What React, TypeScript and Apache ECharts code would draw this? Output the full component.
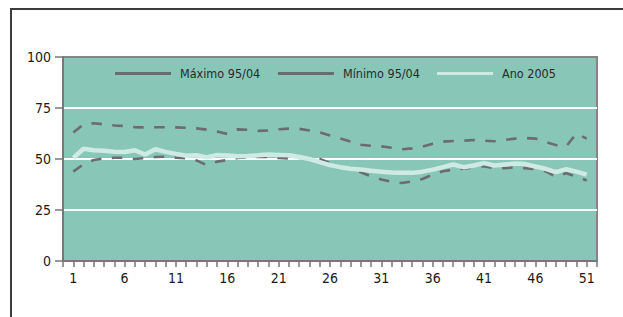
import React, { useEffect, useRef } from "react";
import * as echarts from "echarts";

const weeks = [1,2,3,4,5,6,7,8,9,10,11,12,13,14,15,16,17,18,19,20,21,22,23,24,25,26,27,28,29,30,31,32,33,34,35,36,37,38,39,40,41,42,43,44,45,46,47,48,49,50,51];

const maximo = [63,67,67.5,67,66.4,66.2,65.6,65.5,65.6,65.6,65.5,65.3,65,64.4,63.5,62.3,64.5,64.3,63.8,64,64.6,64.9,64.8,64,63,61.5,60,58.5,57,56.5,56.2,55.5,54.8,55.2,56,57.5,58.5,58.8,59,59.3,59,58.7,59.3,60,60.3,60,58.3,56.8,56.2,62.5,60];

const minimo = [43.8,47.5,49.5,50.4,50.6,50.6,50,50.5,51,51.1,50.6,50.3,49.3,47,48.7,49.5,50.5,50.8,51,51,50.5,50.3,50.5,50.5,50,48,46,45,43.5,41.5,40,38.8,38.2,39,40.2,42.4,44,44.8,45.2,46,46.5,45.5,45.5,45.9,45.5,45,44,41.3,43,41.3,39.5];

const ano2005 = [50.5,55,54.3,54,53.6,53.4,54.3,52.2,54.8,53.5,52.5,51.6,51.8,50.8,52,51.7,51.3,51.5,51.8,52.2,52,51.8,51,50,48.5,47,46,45.2,44.8,44.2,43.8,43.4,43.2,43.2,43.8,44.8,46,47.3,46,46.8,48,46.8,47.3,47.8,47.5,46.3,45.2,43.6,45,43.8,42.3];

const yTicks = [0, 25, 50, 75, 100];
const xLabelWeeks = [1, 6, 11, 16, 21, 26, 31, 36, 41, 46, 51];

const seriesNames = ["Máximo 95/04", "Mínimo 95/04", "Ano 2005"];

const FONT = "'Liberation Sans Narrow', 'DejaVu Sans Condensed', 'Liberation Sans', sans-serif";
const DASH_COLOR = "#6c6b70";
const ANO_COLOR = "#cfeae3";

export default function App() {
  const ref = useRef<HTMLDivElement>(null);
  useEffect(() => {
    if (!ref.current) return;
    const chart = echarts.init(ref.current, undefined, { renderer: "svg" });
    const pairs = (vals: number[]) => weeks.map((w, i) => [w, vals[i]]);
    const legendBase = {
      icon: "rect",
      itemWidth: 56,
      itemHeight: 3,
      padding: 0,
      top: 67,
      selectedMode: false,
      textStyle: { fontSize: 12.5, color: "#2a2a2a", fontFamily: FONT, padding: [0, 0, 0, 4] },
    };
    chart.setOption({
      animation: false,
      backgroundColor: "#ffffff",
      graphic: [
        { type: "line", shape: { x1: 11, y1: 9, x2: 11, y2: 330 }, style: { stroke: "#3c3c3c", lineWidth: 2 } },
        { type: "line", shape: { x1: 10, y1: 9, x2: 640, y2: 9 }, style: { stroke: "#3c3c3c", lineWidth: 2 } },
      ],
      legend: [
        { ...legendBase, left: 115, data: [seriesNames[0]] },
        { ...legendBase, left: 278, data: [seriesNames[1]] },
        { ...legendBase, left: 437, data: [seriesNames[2]] },
      ],
      grid: {
        left: 63,
        top: 57,
        right: 26,
        bottom: 56,
        show: true,
        backgroundColor: "#88c6b8",
        borderColor: "#858585",
        borderWidth: 2,
      },
      xAxis: {
        type: "value",
        min: 0,
        max: 52,
        interval: 1,
        axisLine: { show: true, lineStyle: { color: "#777", width: 2 } },
        axisTick: { show: true, length: 6, lineStyle: { color: "#777", width: 1.5 } },
        splitLine: { show: false },
        axisLabel: {
          margin: 10,
          fontSize: 14,
          color: "#1a1a1a",
          fontFamily: FONT,
          formatter: (v: number) => (xLabelWeeks.indexOf(v) >= 0 ? String(v) : ""),
        },
      },
      yAxis: {
        type: "value",
        min: yTicks[0],
        max: yTicks[yTicks.length - 1],
        interval: 25,
        axisLine: { show: true, lineStyle: { color: "#777", width: 2 } },
        axisTick: { show: true, length: 8, lineStyle: { color: "#777", width: 1.5 } },
        splitLine: {
          show: true,
          lineStyle: { color: ["transparent", "#ffffff", "#ffffff", "#ffffff", "transparent"], width: 2 },
        },
        axisLabel: { margin: 12, fontSize: 14, color: "#1a1a1a", fontFamily: FONT },
      },
      series: [
        {
          name: seriesNames[0],
          type: "line",
          data: pairs(maximo),
          showSymbol: false,
          symbol: "none",
          color: DASH_COLOR,
          lineStyle: { color: DASH_COLOR, width: 2.6, type: [10.5, 10.5] },
        },
        {
          name: seriesNames[1],
          type: "line",
          data: pairs(minimo),
          showSymbol: false,
          symbol: "none",
          color: DASH_COLOR,
          lineStyle: { color: DASH_COLOR, width: 2.6, type: [10.5, 10.5] },
        },
        {
          name: seriesNames[2],
          type: "line",
          data: pairs(ano2005),
          showSymbol: false,
          symbol: "none",
          color: ANO_COLOR,
          lineStyle: { color: ANO_COLOR, width: 4.5 },
        },
      ],
    });
    return () => chart.dispose();
  }, []);
  return (
    <div
      ref={ref}
      style={{ position: "fixed", left: 0, top: 0, width: 623, height: 317, background: "#fff" }}
    />
  );
}
